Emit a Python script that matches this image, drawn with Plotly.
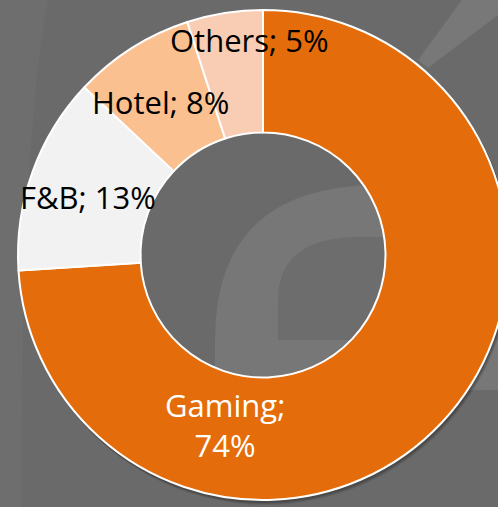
import math
import plotly.graph_objects as go

# ---- data ----
labels = ["Gaming", "F&B", "Hotel", "Others"]
values = [74, 13, 8, 5]
colors = ["#E46C0A", "#F2F2F2", "#FAC090", "#F9CCB4"]
label_font_colors = ["#FFFFFF", "#000000", "#000000", "#000000"]

# ---- canvas (pixels) ----
W, H = 520, 507
BG = "#6A6A6A"


def px(x):
    return x / W


def py(y):
    return 1 - y / H


# donut geometry in pixels
cx, cy, R = 263, 255, 245

fig = go.Figure()
fig.add_trace(go.Pie(
    labels=labels,
    values=values,
    sort=False,
    direction="clockwise",
    rotation=0,
    hole=0.5,
    marker=dict(colors=colors, line=dict(color="#FFFFFF", width=2)),
    textinfo="none",
    hoverinfo="label+percent",
    showlegend=False,
    domain=dict(x=[px(cx - R), px(cx + R)], y=[py(cy + R), py(cy - R)]),
))


def ring_path(x0, y0, r_out, r_in, n=120):
    pts_o = [(x0 + r_out * math.cos(2 * math.pi * k / n), y0 + r_out * math.sin(2 * math.pi * k / n)) for k in range(n)]
    pts_i = [(x0 + r_in * math.cos(-2 * math.pi * k / n), y0 + r_in * math.sin(-2 * math.pi * k / n)) for k in range(n)]
    s = "M " + " L ".join(f"{px(a):.5f},{py(b):.5f}" for a, b in pts_o) + " Z "
    s += "M " + " L ".join(f"{px(a):.5f},{py(b):.5f}" for a, b in pts_i) + " Z"
    return s


shapes = []
# decorative background swirl
shapes.append(dict(type="path", xref="paper", yref="paper", layer="below",
                   path=f"M {px(215)},{py(390)} L {px(215)},{py(340)} "
                        f"Q {px(215)},{py(185)} {px(380)},{py(185)} "
                        f"L {px(520)},{py(185)} L {px(520)},{py(390)} Z",
                   fillcolor="#777777", line=dict(width=0)))
shapes.append(dict(type="path", xref="paper", yref="paper", layer="below",
                   path=f"M {px(278)},{py(340)} L {px(278)},{py(300)} "
                        f"Q {px(278)},{py(237)} {px(360)},{py(237)} "
                        f"L {px(520)},{py(237)} L {px(520)},{py(340)} Z",
                   fillcolor="#6D6D6D", line=dict(width=0)))
# subtle left arc
shapes.append(dict(type="path", xref="paper", yref="paper", layer="below",
                   path=f"M {px(0)},{py(0)} L {px(48)},{py(0)} "
                        f"Q {px(20)},{py(150)} {px(22)},{py(507)} L {px(0)},{py(507)} Z",
                   fillcolor="#6E6E6E", line=dict(width=0)))
# diagonal light streak at top right
shapes.append(dict(type="path", xref="paper", yref="paper", layer="below",
                   path=f"M {px(462)},{py(0)} L {px(498)},{py(0)} L {px(498)},{py(15)} "
                        f"L {px(428)},{py(68)} L {px(418)},{py(60)} Z",
                   fillcolor="#787878", line=dict(width=0)))
# soft outer shadow of the donut (ring only, so the hole stays clear)
for off, op in [(4, 0.08), (3, 0.10), (2, 0.14)]:
    shapes.append(dict(type="path", xref="paper", yref="paper", layer="below",
                       path=ring_path(cx + off * 0.6, cy + off, R + 1, R - 20),
                       fillcolor=f"rgba(0,0,0,{op})", line=dict(width=0)))

# data labels
label_pos = {
    "Gaming": (225, 425),
    "F&B": (88, 197),
    "Hotel": (160, 102),
    "Others": (249, 40),
}
annotations = []
total = sum(values)
for lab, val, fc in zip(labels, values, label_font_colors):
    pct = round(100 * val / total)
    text = f"{lab};<br>{pct}%" if lab == "Gaming" else f"{lab}; {pct}%"
    x, y = label_pos[lab]
    annotations.append(dict(
        x=px(x), y=py(y), xref="paper", yref="paper", text=text,
        showarrow=False, xanchor="center", yanchor="middle", align="center",
        font=dict(family="Open Sans, sans-serif", size=31, color=fc),
    ))

fig.update_layout(
    width=W, height=H, autosize=False,
    margin=dict(l=0, r=0, t=0, b=0, pad=0),
    paper_bgcolor=BG, plot_bgcolor=BG,
    shapes=shapes, annotations=annotations,
)

fig.write_html(
    "out.html",
    config={"displayModeBar": False, "responsive": False},
    post_script="document.body.style.margin='0';document.body.style.overflow='hidden';"
                "document.documentElement.style.overflow='hidden';",
)
